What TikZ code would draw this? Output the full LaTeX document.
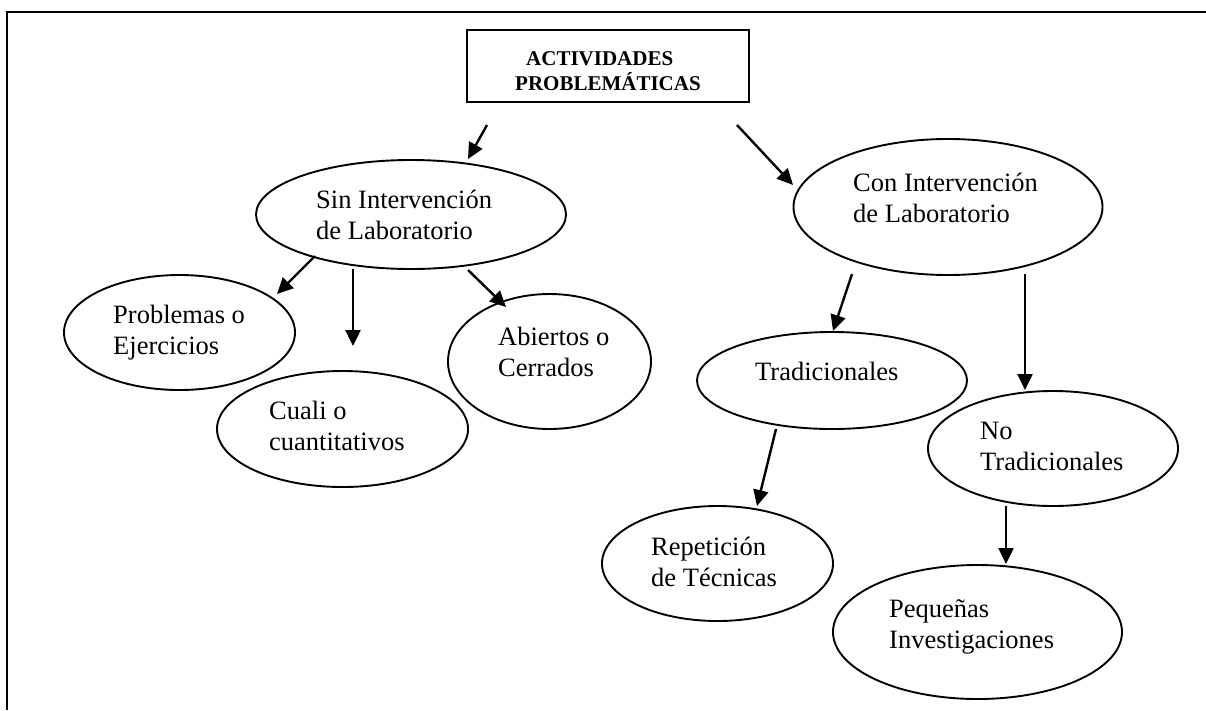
\documentclass[tikz,border=0pt]{standalone}
\usepackage{fontspec}
\setmainfont{Liberation Serif}
\usetikzlibrary{arrows.meta,shapes.geometric}
\begin{document}
\begin{tikzpicture}[x=1pt,y=-1pt,
  ell/.style={draw, ellipse, line width=1.9pt, inner sep=0pt},
  lbl/.style={anchor=base west, align=left, inner sep=0pt, font=\fontsize{26.5}{31}\selectfont},
  ttl/.style={anchor=base west, align=left, inner sep=0pt, font=\bfseries\fontsize{21}{25}\selectfont},
  arr/.style={line width=2.4pt, -{Triangle[length=16pt,width=15pt]}},
  framel/.style={line width=2.5pt}]
\useasboundingbox (0,0) rectangle (1206,710);
\draw[framel] (7,710) -- (7,12) -- (1206,12);
% title
\node[draw, line width=2pt, minimum width=282pt, minimum height=72pt, inner sep=0pt] (title) at (608,66) {};
\node[ttl] (titleT) at (515,90.7) {\hspace*{11pt}ACTIVIDADES\\PROBLEMÁTICAS};
% ellipses
\node[ell, minimum width=310pt, minimum height=109pt] (sin) at (411,214.5) {};
\node[ell, minimum width=309pt, minimum height=136pt] (con) at (948,207) {};
\node[ell, minimum width=231pt, minimum height=115pt] (prob) at (179.5,332.5) {};
\node[ell, minimum width=251pt, minimum height=116pt] (cuali) at (342.5,429) {};
\node[ell, minimum width=203pt, minimum height=135pt] (abi) at (549.5,361.5) {};
\node[ell, minimum width=270pt, minimum height=97pt] (trad) at (832,380.5) {};
\node[ell, minimum width=250pt, minimum height=115pt] (notrad) at (1053,448.5) {};
\node[ell, minimum width=231pt, minimum height=115pt] (rep) at (717.5,563.5) {};
\node[ell, minimum width=289pt, minimum height=134pt] (peq) at (977.5,632) {};
% texts (anchor = baseline of the last line)
\node[lbl] (sinT) at (316,239) {Sin Intervención\\de Laboratorio};
\node[lbl] (conT) at (853,222) {Con Intervención\\de Laboratorio};
\node[lbl] (probT) at (113,354) {Problemas o\\Ejercicios};
\node[lbl] (cualiT) at (269,450) {Cuali o\\cuantitativos};
\node[lbl] (abiT) at (498,376) {Abiertos o\\Cerrados};
\node[lbl] (tradT) at (755,380) {Tradicionales};
\node[lbl] (notradT) at (980,470) {No\\Tradicionales};
\node[lbl] (repT) at (651,586) {Repetición\\de Técnicas};
\node[lbl] (peqT) at (889,648) {Pequeñas\\Investigaciones};
% arrows
\draw[arr] ([shift={(-121,59)}]title.center) -- ([shift={(57,-55.5)}]sin.center);
\draw[arr] ([shift={(129,59)}]title.center) -- ([shift={(-155,-22)}]con.center);
\draw[arr] ([shift={(-96,41.5)}]sin.center) -- ([shift={(97.5,-38.5)}]prob.center);
\draw[arr] ([shift={(-58,54.5)}]sin.center) -- ([shift={(10.5,-83)}]cuali.center);
\draw[arr] ([shift={(57,55.5)}]sin.center) -- ([shift={(-43.5,-54.5)}]abi.center);
\draw[arr] ([shift={(-96,67)}]con.center) -- ([shift={(1,-49.5)}]trad.center);
\draw[arr] ([shift={(77,67)}]con.center) -- ([shift={(-28,-58.5)}]notrad.center);
\draw[arr] ([shift={(-56,48.5)}]trad.center) -- ([shift={(39.5,-57.5)}]rep.center);
\draw[arr] ([shift={(-47,57.5)}]notrad.center) -- ([shift={(28.5,-68)}]peq.center);
\end{tikzpicture}
\end{document}
